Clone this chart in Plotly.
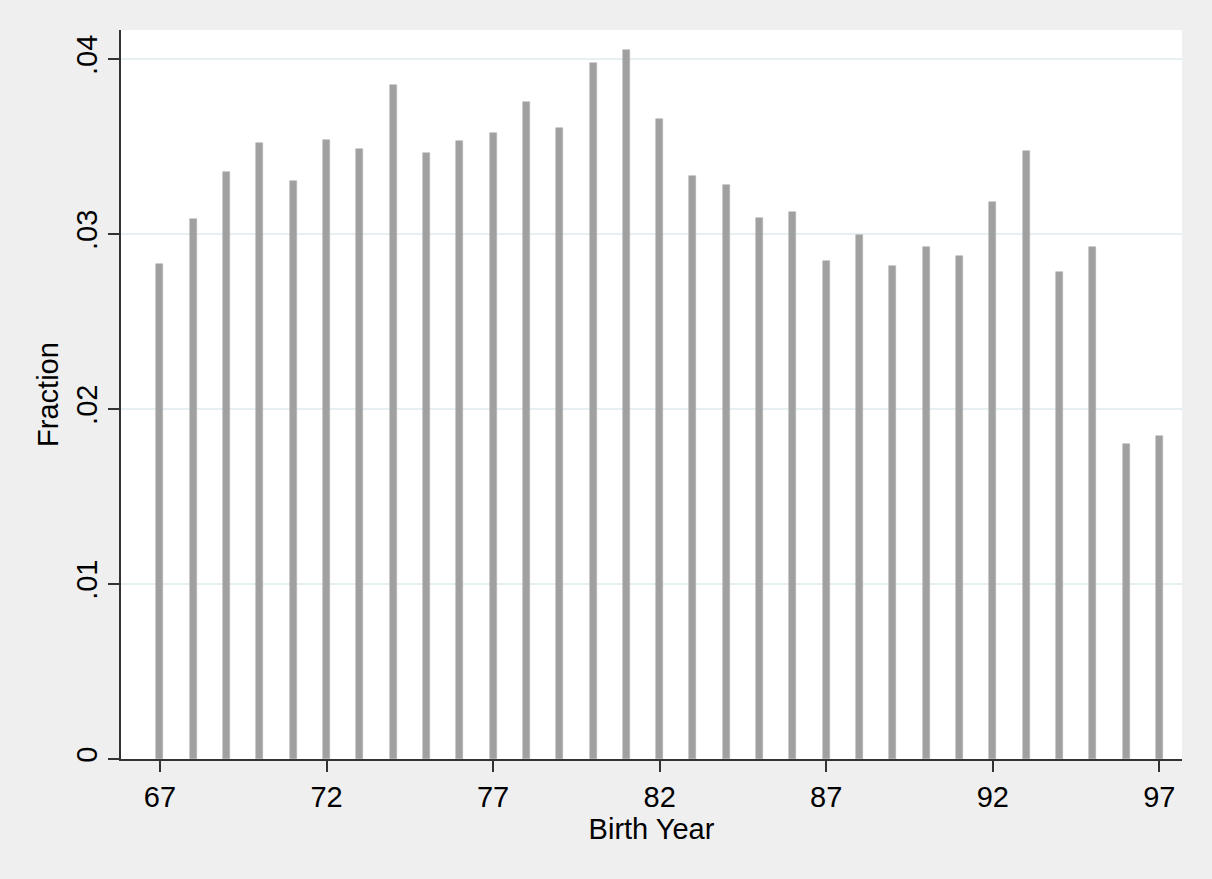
import plotly.graph_objects as go

birth_years = list(range(67, 98))
fractions = [
    0.02829, 0.03089, 0.03358, 0.03520, 0.03303, 0.03539, 0.03484, 0.03853,
    0.03466, 0.03531, 0.03577, 0.03758, 0.03609, 0.03977, 0.04055, 0.03657,
    0.03331, 0.03280, 0.03091, 0.03124, 0.02848, 0.02996, 0.02819, 0.02924,
    0.02874, 0.03186, 0.03476, 0.02786, 0.02929, 0.01800, 0.01847,
]
x_tick_vals = [67, 72, 77, 82, 87, 92, 97]
x_tick_text = ["67", "72", "77", "82", "87", "92", "97"]
y_tick_vals = [0, 0.01, 0.02, 0.03, 0.04]
y_tick_text = ["0", ".01", ".02", ".03", ".04"]

fig = go.Figure()
fig.add_trace(go.Bar(
    x=birth_years,
    y=fractions,
    width=0.21,
    marker=dict(color="#a0a0a0", line=dict(color="#b4b4b4", width=0.6)),
    showlegend=False,
))

font_family = "Liberation Sans, Arial, Helvetica, sans-serif"

fig.update_layout(
    width=1212,
    height=879,
    paper_bgcolor="#efefef",
    plot_bgcolor="#ffffff",
    margin=dict(l=121, r=30, t=30, b=120, pad=0),
    font=dict(family=font_family, size=29, color="#000000"),
    bargap=0,
)

fig.update_xaxes(
    range=[65.83, 97.68],
    tickmode="array",
    tickvals=x_tick_vals,
    ticktext=x_tick_text,
    ticks="outside",
    ticklen=11,
    tickwidth=1.5,
    tickcolor="#333333",
    showline=True,
    linecolor="#333333",
    linewidth=1.5,
    showgrid=False,
    zeroline=False,
    tickfont=dict(size=29),
    title=dict(text="Birth Year", font=dict(size=29), standoff=4),
)

fig.update_yaxes(
    range=[0, 0.04167],
    tickmode="array",
    tickvals=y_tick_vals,
    ticktext=y_tick_text,
    tickangle=-90,
    ticks="outside",
    ticklen=11,
    tickwidth=1.5,
    tickcolor="#333333",
    showline=True,
    linecolor="#333333",
    linewidth=1.5,
    showgrid=True,
    gridcolor="#e6eff1",
    gridwidth=1.5,
    zeroline=False,
    tickfont=dict(size=29),
    title=dict(text="Fraction", font=dict(size=29), standoff=4),
)

fig.write_html(
    "out.html",
    config={"displayModeBar": False},
    post_script="document.body.style.margin='0';document.body.style.background='#efefef';",
)
